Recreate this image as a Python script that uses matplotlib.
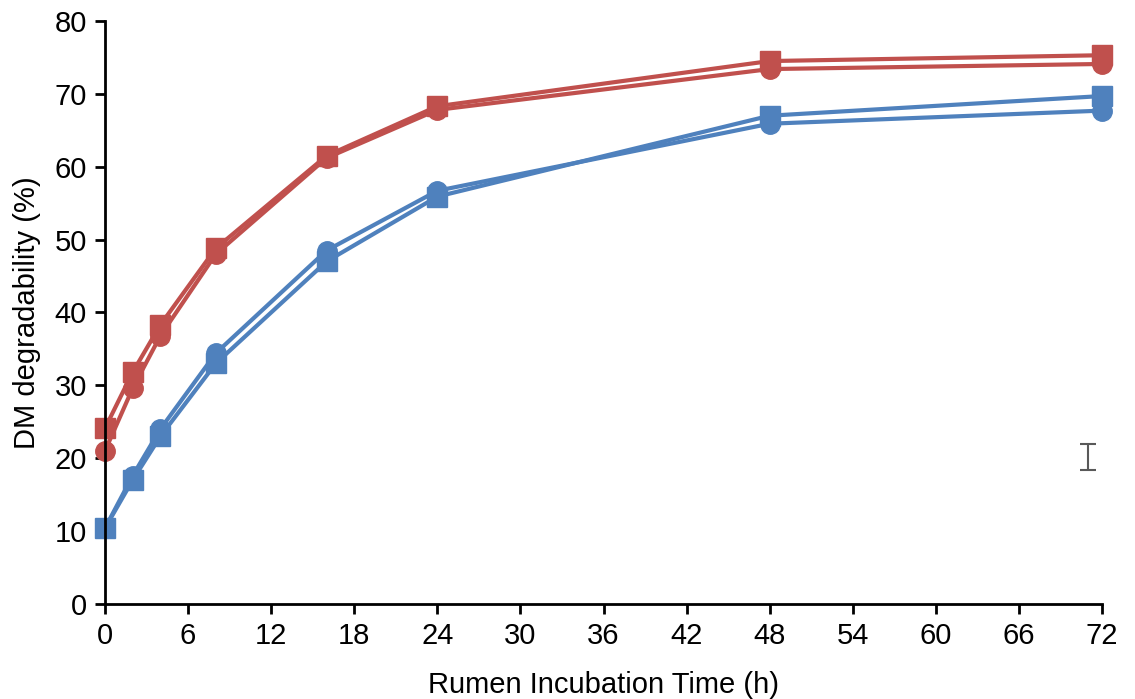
import numpy as np
import matplotlib.pyplot as plt

plt.rcParams['font.family'] = ['Liberation Sans', 'DejaVu Sans']

hours = [0, 2, 4, 8, 16, 24, 48, 72]
red_circle = [21.0, 29.6, 36.8, 48.0, 61.2, 67.8, 73.4, 74.1]
red_square = [24.1, 31.8, 38.3, 48.8, 61.5, 68.3, 74.5, 75.3]
blue_circle = [10.4, 17.6, 24.0, 34.4, 48.5, 56.7, 65.9, 67.7]
blue_square = [10.4, 17.0, 23.0, 33.0, 47.0, 55.9, 67.0, 69.7]
sem_x = 71
sem_y = 20.15
sem_err = 1.75

red = '#C0504D'
blue = '#4F81BD'

fig = plt.figure(figsize=(11.35, 6.99), dpi=100)
ax = fig.add_axes([0.0925, 0.136, 0.8785, 0.834])

ax.plot(hours, red_circle, color=red, lw=3, marker='o', ms=14, clip_on=False)
ax.plot(hours, red_square, color=red, lw=3, marker='s', ms=14, clip_on=False)
ax.plot(hours, blue_circle, color=blue, lw=3, marker='o', ms=14, clip_on=False)
ax.plot(hours, blue_square, color=blue, lw=3, marker='s', ms=14, clip_on=False)

ax.errorbar([sem_x], [sem_y], yerr=[sem_err], color='#595959', lw=1.5, capsize=6, capthick=1.5)

ax.set_xlim(0, 72)
ax.set_ylim(0, 80)
ax.set_xticks(np.arange(0, 73, 6))
ax.set_yticks(np.arange(0, 81, 10))
ax.tick_params(labelsize=21, width=2, length=7, direction='out', pad=6)
for s in ['top', 'right']:
    ax.spines[s].set_visible(False)
for s in ['left', 'bottom']:
    ax.spines[s].set_linewidth(2)

ax.set_xlabel('Rumen Incubation Time (h)', fontsize=21, labelpad=15)
ax.set_ylabel('DM degradability (%)', fontsize=21, labelpad=10)

fig.savefig('out.png', dpi=100)
